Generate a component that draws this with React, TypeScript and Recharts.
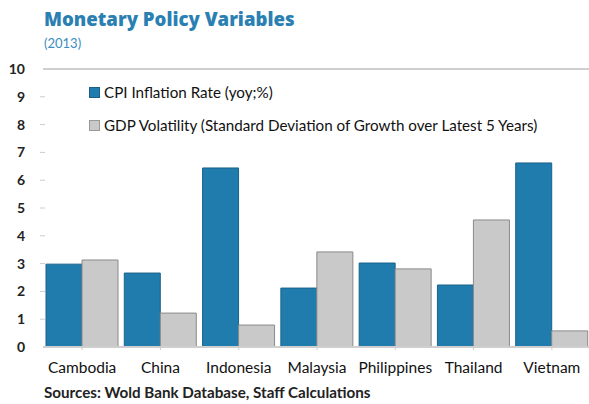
import React from "react";
import { BarChart, Bar, XAxis, YAxis, ReferenceLine } from "recharts";

const categories = ["Cambodia", "China", "Indonesia", "Malaysia", "Philippines", "Thailand", "Vietnam"];
const cpiInflation = [2.98, 2.66, 6.44, 2.12, 3.02, 2.23, 6.62];
const gdpVolatility = [3.13, 1.22, 0.79, 3.42, 2.81, 4.57, 0.58];
const yTicks = [0, 1, 2, 3, 4, 5, 6, 7, 8, 9, 10];

const seriesNames = {
  cpi: "CPI Inflation Rate (yoy;%)",
  gdp: "GDP Volatility (Standard Deviation of Growth over Latest 5 Years)",
};

const data = categories.map((c, i) => ({ name: c, cpi: cpiInflation[i], gdp: gdpVolatility[i] }));

const FONT = "Lato, 'Open Sans', sans-serif";
const BLUE = "#1f7cad";
const GREY = "#c9c9c9";

const YTick = (props: any) => {
  const { y, payload } = props;
  return (
    <g>
      <text x={25} y={y} dy={5} textAnchor="end" fontFamily={FONT} fontSize={14} fontWeight={700} fill="#222">
        {payload.value}
      </text>
      {payload.value !== 10 && payload.value !== 0 && (
        <line x1={40} x2={45} y1={y} y2={y} stroke="#ccc" strokeWidth={1} />
      )}
    </g>
  );
};

const LegendBox = () => (
  <div style={{ position: "absolute", left: 89, top: 82, fontFamily: FONT, fontSize: 15.2, color: "#111", whiteSpace: "nowrap" }}>
    <div style={{ display: "flex", alignItems: "center", height: 20 }}>
      <span style={{ width: 9, height: 9, background: BLUE, border: "1px solid #1a5f85", marginRight: 4 }} />
      {seriesNames.cpi}
    </div>
    <div style={{ display: "flex", alignItems: "center", height: 20, marginTop: 13 }}>
      <span style={{ width: 9, height: 9, background: GREY, border: "1px solid #999", marginRight: 4 }} />
      {seriesNames.gdp}
    </div>
  </div>
);

export default function App() {
  return (
    <div style={{ position: "absolute", left: 0, top: 0, width: 589, height: 404, overflow: "hidden", background: "#fff" }}>
      <div style={{ position: "absolute", left: 0, top: 0 }}>
        <BarChart
          width={592}
          height={404}
          data={data}
          margin={{ top: 69, right: 1, bottom: 0, left: 0 }}
          barGap={0}
          barCategoryGap={3}
        >
          <YAxis
            width={43}
            domain={[0, 10]}
            ticks={yTicks}
            interval={0}
            axisLine={false}
            tickLine={false}
            tick={<YTick />}
          />
          <XAxis
            dataKey="name"
            height={57}
            axisLine={{ stroke: "#cfcfcf", strokeWidth: 2 }}
            tickLine={{ stroke: "#ccc" }}
            tickSize={3}
            interval={0}
            tick={{ fontFamily: FONT, fontSize: 15.5, fill: "#111" }}
            tickMargin={12}
          />
          <ReferenceLine y={10} stroke="#cfcfcf" strokeWidth={2} />
          <Bar dataKey="cpi" name={seriesNames.cpi} fill={BLUE} stroke="#1b628a" strokeWidth={1} isAnimationActive={false} />
          <Bar dataKey="gdp" name={seriesNames.gdp} fill={GREY} stroke="#8a8a8a" strokeWidth={1} isAnimationActive={false} />
        </BarChart>
      </div>
      <div style={{ position: "absolute", left: 44, top: 6, fontFamily: "'Open Sans', sans-serif", fontWeight: 800, fontSize: 18.6, color: "#2a80b3", whiteSpace: "nowrap" }}>
        Monetary Policy Variables
      </div>
      <div style={{ position: "absolute", left: 44, top: 35, fontFamily: FONT, fontSize: 13, color: "#3a8dc0" }}>
        (2013)
      </div>
      <LegendBox />
      <div style={{ position: "absolute", left: 44, top: 383, fontFamily: FONT, fontWeight: 700, fontSize: 15.2, color: "#222", whiteSpace: "nowrap" }}>
        Sources: Wold Bank Database, Staff Calculations
      </div>
    </div>
  );
}
